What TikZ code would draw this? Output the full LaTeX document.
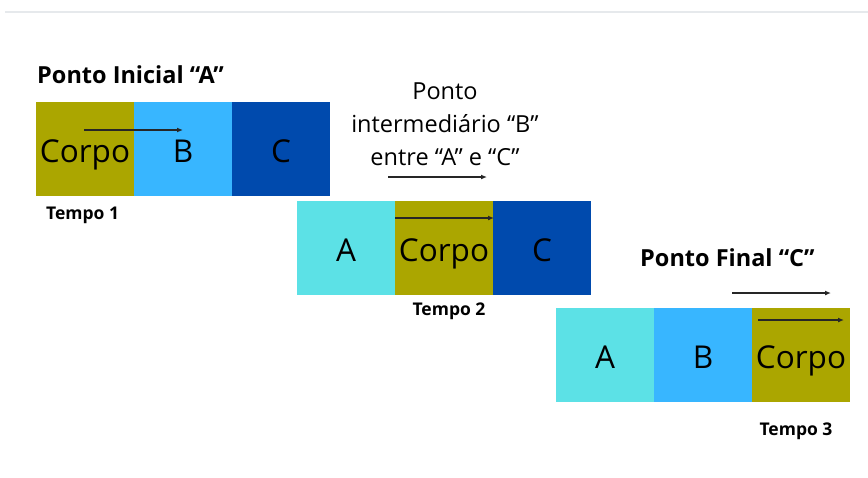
\documentclass[tikz,border=0pt]{standalone}
\usepackage{fontspec}
\setmainfont{Open Sans}
\usetikzlibrary{positioning,arrows.meta}
\definecolor{corpo}{HTML}{ABA600}
\definecolor{azulclaro}{HTML}{38B6FF}
\definecolor{azulescuro}{HTML}{004AAD}
\definecolor{ciano}{HTML}{5CE1E6}
\definecolor{linhatopo}{HTML}{E6E9EC}

\begin{document}
\begin{tikzpicture}[x=1pt, y=-1pt,
    cell/.style={minimum width=98pt, minimum height=94pt, inner sep=0pt, outer sep=0pt,
      text height=28pt, text depth=2pt, font=\fontsize{31.5}{36}\selectfont},
    titulo/.style={inner sep=0pt, font=\fontsize{23.5}{28}\selectfont\bfseries},
    tempo/.style={inner sep=0pt, font=\fontsize{17.5}{20}\selectfont\bfseries},
    seta/.style={-{Latex[length=6pt,width=5pt]}, line width=1.3pt, color=black!85}]
          \useasboundingbox (0,0) rectangle (868,477);
          \draw [line width=2.5pt, color=linhatopo] (5,12) -- (868,12);

          % tempo 1
          \node[cell, fill=corpo] (corpo1) at (85,149) {Corpo};
          \node[cell, fill=azulclaro, right=0pt of corpo1] (b1) {B};
          \node[cell, fill=azulescuro, right=0pt of b1] (c1) {C};
          \node[titulo, anchor=base west] (ini) at (37,83) {Ponto Inicial “A”};
          \node[tempo, anchor=base west] (tempo1) at (46,219) {Tempo 1};

          % tempo 2
          \node[cell, fill=ciano] (a2) at (346,248) {A};
          \node[cell, fill=corpo, right=0pt of a2] (corpo2) {Corpo};
          \node[cell, fill=azulescuro, right=0pt of corpo2] (c2) {C};
          \node[align=center, inner sep=0pt, font=\fontsize{23.5}{33}\selectfont] (meio) at (445,124)
            {Ponto\\intermediário “B”\\entre “A” e “C”};
          \node[tempo, anchor=base] (tempo2) at (449,315) {Tempo 2};

          % tempo 3
          \node[cell, fill=ciano] (a3) at (605,355) {A};
          \node[cell, fill=azulclaro, right=0pt of a3] (b3) {B};
          \node[cell, fill=corpo, right=0pt of b3] (corpo3) {Corpo};
          \node[titulo, anchor=base west] (fim) at (640,266) {Ponto Final “C”};
          \node[tempo, anchor=base] (tempo3) at (796,435) {Tempo 3};

          % setas
          \coordinate (s1a) at (84,130);  \coordinate (s1b) at (183,130);
          \coordinate (s2a) at (388,177); \coordinate (s2b) at (487,177);
          \coordinate (s2c) at (395,218); \coordinate (s2d) at (494,218);
          \coordinate (s3a) at (732,293); \coordinate (s3b) at (831,293);
          \coordinate (s3c) at (758,320); \coordinate (s3d) at (844,320);
          \draw [seta] (s1a) -- (s1b);
          \draw [seta] (s2a) -- (s2b);
          \draw [seta] (s2c) -- (s2d);
          \draw [seta] (s3a) -- (s3b);
          \draw [seta] (s3c) -- (s3d);
\end{tikzpicture}
\end{document}
